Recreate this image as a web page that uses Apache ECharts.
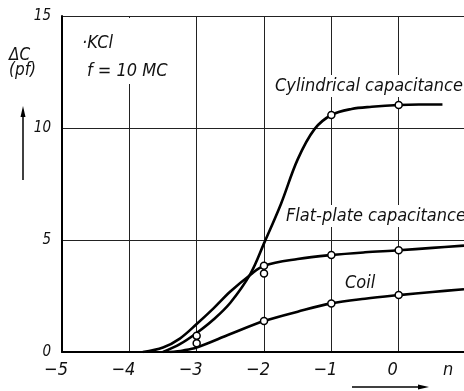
<!DOCTYPE html>
<html><head><meta charset="utf-8">
<script src="https://cdn.jsdelivr.net/npm/echarts@6/dist/echarts.min.js"></script>
<style>html,body{margin:0;padding:0;background:#fff}#c{width:464px;height:391px}</style>
</head><body><div id="c"></div><script>
// x ticks (n) and y ticks (ΔC, pF)
const xMin = -5, xMax = 0.97;
const yMin = 0, yMax = 15;
// Cylindrical capacitance curve
const cylN = [-3.5, -3.25, -3.0, -2.75, -2.5, -2.2, -2.0, -1.75, -1.5, -1.25, -1.0, -0.7, -0.4, 0.0, 0.3, 0.65];
const cylC = [0.0, 0.35, 0.85, 1.45, 2.2, 3.5, 4.85, 6.6, 8.6, 9.95, 10.58, 10.85, 10.95, 11.03, 11.05, 11.05];
// Flat-plate capacitance curve
const flatN = [-3.8, -3.5, -3.25, -3.0, -2.75, -2.5, -2.2, -2.0, -1.5, -1.0, -0.5, 0.0, 0.5, 0.97];
const flatC = [0.0, 0.2, 0.6, 1.25, 1.95, 2.7, 3.45, 3.85, 4.15, 4.33, 4.45, 4.54, 4.65, 4.75];
// Coil curve
const coilN = [-3.4, -3.2, -3.0, -2.5, -2.0, -1.5, -1.0, -0.5, 0.0, 0.5, 0.97];
const coilC = [0.0, 0.07, 0.2, 0.8, 1.38, 1.8, 2.17, 2.38, 2.54, 2.68, 2.8];
// measured points (open circles)
const markN = [-3, -3, -2, -2, -2, -1, -1, -1, 0, 0, 0];
const markC = [0.72, 0.39, 3.85, 3.5, 1.38, 10.58, 4.33, 2.17, 11.03, 4.54, 2.54];

const FONT = '"DejaVu Sans Condensed","DejaVu Sans",sans-serif';
const pair = (a, b) => a.map((v, i) => [v, b[i]]);
const lineSeries = (name, n, c) => ({
  name, type: 'line', data: pair(n, c), smooth: 0.35, showSymbol: false,
  lineStyle: { color: '#000', width: 2.6 }, z: 3, silent: true
});
const txt = (text, x, y, size, bg) => ({
  type: 'text', left: x, top: y, z: 60,
  style: { text, fill: '#111', font: 'italic ' + size + 'px ' + FONT,
    backgroundColor: bg ? '#fff' : null, padding: bg ? [2, 2] : 0 }
});

const chart = echarts.init(document.getElementById('c'), null, { renderer: 'canvas' });
chart.setOption({
  animation: false,
  backgroundColor: '#fff',
  grid: { left: 62, top: 16, width: 402, height: 336, containLabel: false, outerBoundsMode: 'none' },
  xAxis: {
    type: 'value', min: xMin, max: xMax, interval: 1,
    axisLine: { show: true, onZero: false, lineStyle: { color: '#000', width: 2 } },
    axisTick: { show: false },
    splitLine: { show: true, lineStyle: { color: '#222', width: 1 } },
    axisLabel: { formatter: v => v > 0.5 ? '' : String(v).replace('-', '\u2212'),
      fontSize: 18, fontStyle: 'italic', fontFamily: FONT, color: '#111', margin: 9,
      padding: [0, 12, 0, 0], showMaxLabel: false }
  },
  yAxis: {
    type: 'value', min: yMin, max: yMax, interval: 5,
    axisLine: { show: true, onZero: false, lineStyle: { color: '#000', width: 2 } },
    axisTick: { show: false },
    splitLine: { show: true, lineStyle: { color: '#222', width: 1 } },
    axisLabel: { fontSize: 15, fontStyle: 'italic', fontFamily: FONT, color: '#111', margin: 11 }
  },
  series: [
    lineSeries('Cylindrical capacitance', cylN, cylC),
    lineSeries('Flat-plate capacitance', flatN, flatC),
    lineSeries('Coil', coilN, coilC),
    { type: 'scatter', data: pair(markN, markC), symbol: 'circle', symbolSize: 7, z: 5,
      itemStyle: { color: '#fff', borderColor: '#000', borderWidth: 1.5, opacity: 1 }, silent: true }
  ],
  graphic: [
    { type: 'rect', shape: { x: 125, y: 18, width: 10, height: 66 }, style: { fill: '#fff' }, z: 50 },
    txt('\u00b7KCl', 82, 34, 18, false),
    txt('f = 10 MC', 87, 62, 18, false),
    txt('\u0394C', 9, 47, 17, false),
    txt('(pf)', 9, 62, 17, false),
    { type: 'line', shape: { x1: 23, y1: 180, x2: 23, y2: 114 }, style: { stroke: '#000', lineWidth: 1.5 }, z: 60 },
    { type: 'polygon', shape: { points: [[23, 106], [20.5, 117], [25.5, 117]] }, style: { fill: '#000' }, z: 60 },
    { type: 'line', shape: { x1: 352, y1: 387, x2: 420, y2: 387 }, style: { stroke: '#000', lineWidth: 1.5 }, z: 60 },
    { type: 'polygon', shape: { points: [[429, 387], [418, 384.5], [418, 389.5]] }, style: { fill: '#000' }, z: 60 },
    txt('n', 443, 361, 18, false),
    txt('Cylindrical capacitance', 273, 75, 18, true),
    txt('Flat-plate capacitance', 284, 205, 18, true),
    txt('Coil', 345, 274, 18, false)
  ]
});
</script></body></html>
